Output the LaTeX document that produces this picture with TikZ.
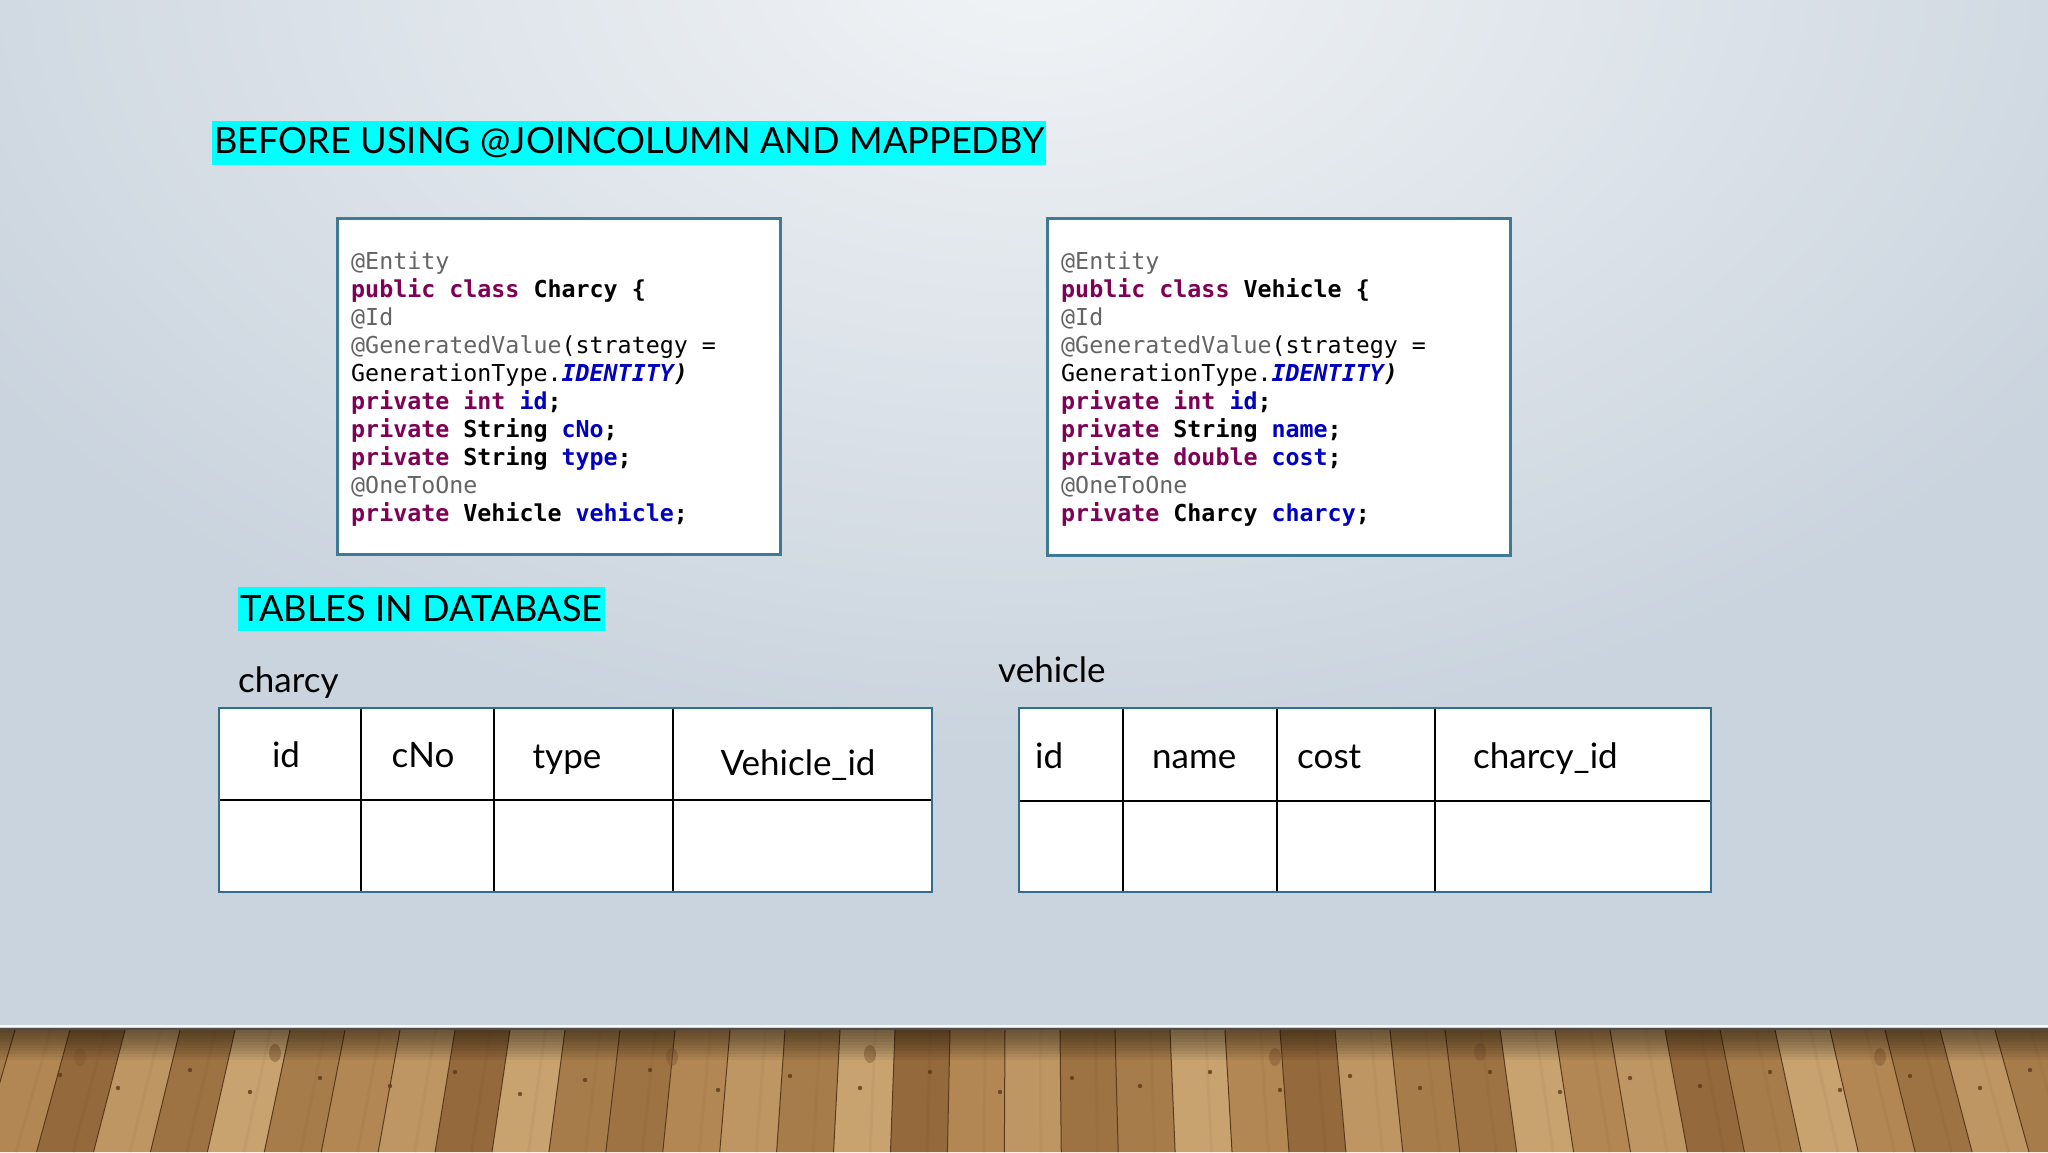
\documentclass[tikz,border=0pt]{standalone}
\usepackage{fontspec}
\setmainfont{Lato}
\newfontfamily\codefont{DejaVu Sans Mono}
\usetikzlibrary{fadings}
\definecolor{kwc}{HTML}{7F0055}
\definecolor{fdc}{HTML}{0000C0}
\definecolor{anc}{HTML}{646464}
\definecolor{wallc}{HTML}{CAD4DE}
\definecolor{boxline}{HTML}{3F7A95}
\definecolor{tabline}{HTML}{2E6F8E}
\definecolor{hl}{HTML}{00FFFF}
\definecolor{w1}{HTML}{A67C4A}
\definecolor{w2}{HTML}{BE9663}
\definecolor{w3}{HTML}{94693B}
\definecolor{w4}{HTML}{B38753}
\definecolor{w5}{HTML}{C8A370}
\definecolor{w6}{HTML}{9E7343}
\definecolor{wdark}{HTML}{5A3A1C}
\tikzfading[name=glow, inner color=transparent!25, outer color=transparent!100]
\newcommand\kw[1]{\textcolor{kwc}{\bfseries #1}}
\newcommand\fd[1]{\textcolor{fdc}{\bfseries #1}}
\newcommand\an[1]{\textcolor{anc}{#1}}
\tikzset{
  codeline/.style={anchor=base west, inner sep=0pt, font=\codefont\fontsize{23.3}{28}\selectfont},
  codebox/.style={draw=boxline, line width=2.5pt, fill=white},
  hlbox/.style={fill=hl, inner xsep=2pt, inner ysep=0pt, minimum height=44pt, font=\fontsize{36.2}{44}\selectfont},
  tabtxt/.style={inner sep=0pt, font=\fontsize{35}{42}\selectfont},
  tabouter/.style={draw=tabline, line width=2.5pt, fill=white},
  tabinner/.style={draw=black, line width=1.4pt}
}
\begin{document}
\begin{tikzpicture}[x=1pt,y=-1pt]
\useasboundingbox (0,0) rectangle (2048,1152);
% wall
\fill[wallc] (0,0) rectangle (2048,1030);
\begin{scope}
\clip (0,0) rectangle (2048,1030);
\fill[white, path fading=glow] (1030,-40) ellipse (1250 and 800);
\end{scope}
% floor planks
\foreach \i/\c in {0/w1,1/w4,2/w3,3/w2,4/w6,5/w5,6/w1,7/w4,8/w2,9/w3,10/w5,11/w1,12/w6,13/w4,14/w2,15/w1,16/w5,17/w3,18/w4,19/w2,20/w6,21/w1,22/w5,23/w4,24/w3,25/w2,26/w1,27/w6,28/w5,29/w4,30/w2,31/w3,32/w1,33/w5,34/w4,35/w6,36/w2,37/w1,38/w4,39/w2}{
  \pgfmathsetmacro\xa{-40+\i*55}
  \pgfmathsetmacro\xb{\xa+55}
  \pgfmathsetmacro\xc{1024+(\xb-1024)*1.035}
  \pgfmathsetmacro\xd{1024+(\xa-1024)*1.035}
  \pgfmathsetmacro\xm{(\xa+\xb)/2}
  \pgfmathsetmacro\xn{(\xc+\xd)/2}
  \fill[\c] (\xa,1030) -- (\xb,1030) -- (\xc,1152) -- (\xd,1152) -- cycle;
  \draw[\c!85!wdark, line width=3pt, opacity=.35] (\xm+8,1030) -- (\xn+8,1152);
  \draw[wdark, line width=1pt] (\xa,1030) -- (\xd,1152);
}
% nail holes and knots
\foreach \x/\y in {60/1075,118/1088,190/1070,250/1092,320/1078,390/1086,455/1072,520/1094,585/1080,650/1070,718/1090,790/1076,860/1088,930/1072,1000/1092,1072/1078,1140/1086,1210/1072,1280/1090,1350/1076,1420/1088,1490/1072,1560/1092,1630/1078,1700/1086,1770/1072,1840/1090,1910/1076,1980/1088,2030/1070}{
  \fill[wdark, opacity=.8] (\x,\y) circle (2.2);
}
\foreach \x/\y in {80/1057,275/1053,672/1057,870/1054,1275/1057,1480/1052,1880/1057}{
  \fill[w3!70!wdark, opacity=.5] (\x,\y) ellipse (6 and 9);
}
\foreach \k in {1,...,10}{
  \fill[black, opacity=0.05] (0,1030) rectangle (2048,1030+\k*3);
}
\draw[white!85!wallc, line width=2pt] (0,1026) -- (2048,1026);
\draw[black!70, line width=1.5pt] (0,1029) -- (2048,1029);
% title
\node[hlbox, anchor=west] (title) at (212,143) {BEFORE USING @JOINCOLUMN AND MAPPEDBY};
% code box 1
\node[codebox, anchor=north west, minimum width=443pt, minimum height=336pt, inner sep=0pt] (box1) at (336,217) {};
\node[codeline] (c1l1) at (351,269) {\an{@Entity}};
\node[codeline] (c1l2) at (351,297) {\kw{public class} \textbf{Charcy \{}};
\node[codeline] (c1l3) at (351,325) {\an{@Id}};
\node[codeline] (c1l4) at (351,353) {\an{@GeneratedValue}(strategy =};
\node[codeline] (c1l5) at (351,381) {GenerationType.\textcolor{fdc}{\bfseries\itshape IDENTITY}{\bfseries\itshape )}};
\node[codeline] (c1l6) at (351,409) {\kw{private int} \fd{id}\textbf{;}};
\node[codeline] (c1l7) at (351,437) {\kw{private} \textbf{String} \fd{cNo}\textbf{;}};
\node[codeline] (c1l8) at (351,465) {\kw{private} \textbf{String} \fd{type}\textbf{;}};
\node[codeline] (c1l9) at (351,493) {\an{@OneToOne}};
\node[codeline] (c1l10) at (351,521) {\kw{private} \textbf{Vehicle} \fd{vehicle}\textbf{;}};
% code box 2
\node[codebox, anchor=north west, minimum width=463pt, minimum height=337pt, inner sep=0pt] (box2) at (1046,217) {};
\node[codeline] (c2l1) at (1061,269) {\an{@Entity}};
\node[codeline] (c2l2) at (1061,297) {\kw{public class} \textbf{Vehicle \{}};
\node[codeline] (c2l3) at (1061,325) {\an{@Id}};
\node[codeline] (c2l4) at (1061,353) {\an{@GeneratedValue}(strategy =};
\node[codeline] (c2l5) at (1061,381) {GenerationType.\textcolor{fdc}{\bfseries\itshape IDENTITY}{\bfseries\itshape )}};
\node[codeline] (c2l6) at (1061,409) {\kw{private int} \fd{id}\textbf{;}};
\node[codeline] (c2l7) at (1061,437) {\kw{private} \textbf{String} \fd{name}\textbf{;}};
\node[codeline] (c2l8) at (1061,465) {\kw{private double} \fd{cost}\textbf{;}};
\node[codeline] (c2l9) at (1061,493) {\an{@OneToOne}};
\node[codeline] (c2l10) at (1061,521) {\kw{private} \textbf{Charcy} \fd{charcy}\textbf{;}};
% tables heading
\node[hlbox, anchor=west] (tabhead) at (238,609) {TABLES IN DATABASE};
% charcy table
\node[tabtxt, anchor=base west] (lblc) at (238,692) {charcy};
\draw[tabouter] (219,708) rectangle (932,892);
\draw[tabinner] (219,800) -- (932,800);
\draw[tabinner] (361,708) -- (361,892);
\draw[tabinner] (494,708) -- (494,892);
\draw[tabinner] (673,708) -- (673,892);
\draw[tabline, line width=2.5pt] (219,708) rectangle (932,892);
\node[tabtxt, anchor=base] (tc1) at (286,767) {id};
\node[tabtxt, anchor=base] (tc2) at (423,767) {cNo};
\node[tabtxt, anchor=base] (tc3) at (567,768) {type};
\node[tabtxt, anchor=base] (tc4) at (798,775) {Vehicle\_id};
% vehicle table
\node[tabtxt, anchor=base west] (lblv) at (998,682) {vehicle};
\draw[tabouter] (1019,708) rectangle (1711,892);
\draw[tabinner] (1019,801) -- (1711,801);
\draw[tabinner] (1123,708) -- (1123,892);
\draw[tabinner] (1277,708) -- (1277,892);
\draw[tabinner] (1435,708) -- (1435,892);
\draw[tabline, line width=2.5pt] (1019,708) rectangle (1711,892);
\node[tabtxt, anchor=base west] (tv1) at (1035,768) {id};
\node[tabtxt, anchor=base west] (tv2) at (1152,768) {name};
\node[tabtxt, anchor=base west] (tv3) at (1297,768) {cost};
\node[tabtxt, anchor=base west] (tv4) at (1473,768) {charcy\_id};
\end{tikzpicture}
\end{document}
